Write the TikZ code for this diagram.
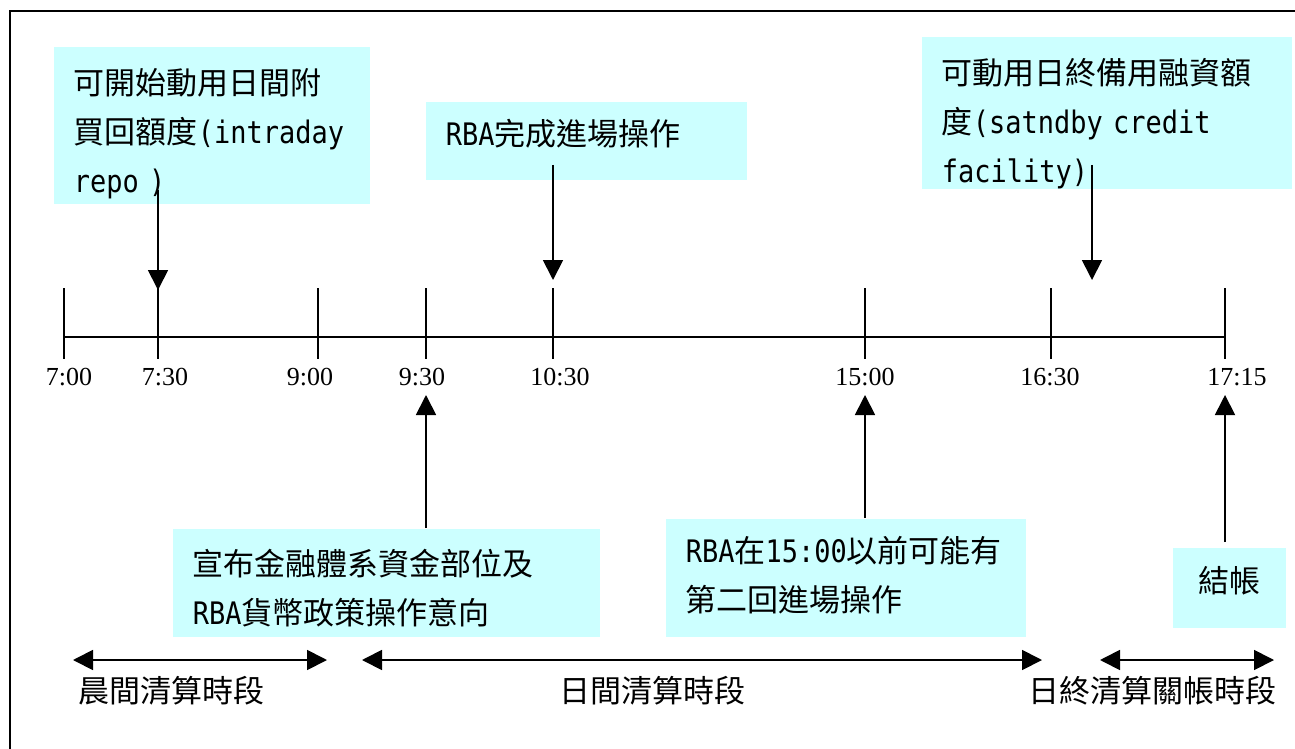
\documentclass[tikz,border=0pt]{standalone}
\usepackage{fontspec}
\setmainfont{Liberation Serif}
\newfontfamily\cjk{Noto Sans CJK TC}
\newfontfamily\half{DejaVu Sans Mono}[FakeStretch=0.87]
\usetikzlibrary{arrows.meta}
\definecolor{boxcyan}{RGB}{204,255,255}

\begin{document}
\begin{tikzpicture}[
  x=1pt, y=-1pt,
  box/.style={fill=boxcyan,anchor=north west,inner xsep=20pt,inner ysep=0pt,
    align=left,font=\fontsize{31}{49}\selectfont\cjk},
  tick label/.style={anchor=base,inner sep=0pt,font=\fontsize{26}{30}\selectfont},
  span label/.style={inner sep=0pt,font=\fontsize{31}{36}\selectfont\cjk},
  every path/.style={line width=1.8pt},
  >={Triangle[length=20pt,width=20pt]},
  ]
  \useasboundingbox (0,0) rectangle (1295,749);
  \draw[line width=2pt] (9.5,749) |- (1295,11.5);
  % boxes
  \node[box,text width=276pt,text height=48pt,text depth=109pt] (b1) at (53,46)
    {可開始動用日間附\\買回額度{\half(intraday}\\{\half repo )}};
  \node[box,text width=281pt,text height=44pt,text depth=34pt] (b2) at (425,101)
    {{\half RBA}完成進場操作};
  \node[box,text width=330pt,text height=48pt,text depth=104pt] (b3) at (921,36)
    {可動用日終備用融資額\\度{\half(satndby credit}\\{\half facility)}};
  \node[box,text width=387pt,text height=47pt,text depth=61pt] (b4) at (172,528)
    {宣布金融體系資金部位及\\{\half RBA}貨幣政策操作意向};
  \node[box,text width=320pt,text height=44pt,text depth=74pt] (b5) at (665,518)
    {{\half RBA}在{\half 15:00}以前可能有\\第二回進場操作};
  \node[box,align=center,inner xsep=0pt,text width=113pt,text height=45pt,text depth=35pt] (b6) at (1172,547)
    {結帳};
  % time axis
  \coordinate (a0) at (64,337);
  \coordinate (a1) at (1225,337);
  \draw (a0) -- (a1);
  \foreach \x/\t/\lx [count=\i] in {64/7:00/69,158/7:30/165,318/9:00/310,
    426/9:30/422,553/10:30/560,865/15:00/865,1051/16:30/1050,1225/17:15/1237}{
    \coordinate (t\i) at (\x,288);
    \draw (t\i) -- ++(0,71);
    \node[tick label] (l\i) at (\lx,385) {\t};
  }
  \coordinate (c3) at (1092,280);
  \coordinate (u4) at (426,395);
  \coordinate (u6) at (865,395);
  \coordinate (u8) at (1225,395);
  \path[->]
  ([yshift=15pt]b1.south -| t2) edge ([yshift=-2pt]t2)
  ([yshift=16pt]b2.south -| t5) edge ([yshift=8pt]t5)
  ([yshift=25pt]b3.south -| c3) edge (c3)
  (b4.north -| u4) edge (u4)
  (b5.north -| u6) edge (u6)
  ([yshift=5pt]b6.north -| u8) edge (u8);
  % clearing periods
  \coordinate (m0) at (73,660);
  \coordinate (m1) at (327,660);
  \coordinate (d0) at (362,660);
  \coordinate (d1) at (1042,660);
  \coordinate (e0) at (1100,660);
  \coordinate (e1) at (1274,660);
  \draw[<->] (m0) -- (m1);
  \draw[<->] (d0) -- (d1);
  \draw[<->] (e0) -- (e1);
  \node[span label] (s1) at (171,691) {晨間清算時段};
  \node[span label] (s2) at (652,691) {日間清算時段};
  \node[span label] (s3) at (1152,691) {日終清算關帳時段};
\end{tikzpicture}
\end{document}
